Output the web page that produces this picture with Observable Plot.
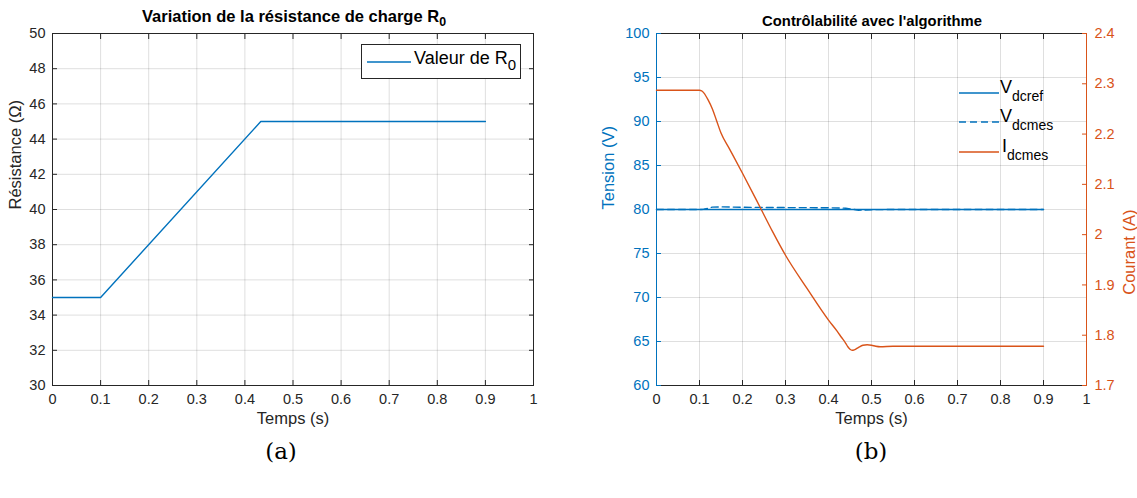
<!DOCTYPE html>
<html>
<head>
<meta charset="utf-8">
<script src="https://cdn.jsdelivr.net/npm/d3@7"></script>
<script src="https://cdn.jsdelivr.net/npm/@observablehq/plot@0.6"></script>
<style>
  body { margin: 0; background: white; font-family: "Liberation Sans", Arial, sans-serif; }
  #root { position: relative; width: 1137px; height: 498px; background: white; overflow: hidden; }
  .title { position: absolute; font-weight: bold; color: #000; transform: translate(-50%, -50%); white-space: nowrap; }
  .cap { position: absolute; font-family: "DejaVu Serif", "Liberation Serif", serif; font-size: 23px; transform: translate(-50%, -50%); color: #000; }
  sub { font-size: 75%; vertical-align: -0.35em; line-height: 0; }
</style>
</head>
<body>
<div id="root"></div>
<script>
// ---------- data ----------
const xTicks = [0, 0.1, 0.2, 0.3, 0.4, 0.5, 0.6, 0.7, 0.8, 0.9, 1];
const rTicks = [30, 32, 34, 36, 38, 40, 42, 44, 46, 48, 50];
const vTicks = [60, 65, 70, 75, 80, 85, 90, 95, 100];
const iTicks = [1.7, 1.8, 1.9, 2, 2.1, 2.2, 2.3, 2.4];

// (a) load resistance R0
const tR = [0, 0.1, 0.433, 0.9];
const R0 = [35, 35, 45, 45];

// (b) reference voltage
const tVref = [0, 0.9];
const Vdcref = [80, 80];
// (b) measured voltage
const tVmes = [0, 0.1, 0.11, 0.12, 0.13, 0.15, 0.2, 0.3, 0.4, 0.44, 0.46, 0.47, 0.48, 0.5, 0.55, 0.9];
const Vdcmes = [80, 80, 80.03, 80.15, 80.27, 80.3, 80.25, 80.22, 80.2, 80.15, 80.0, 79.92, 79.93, 79.98, 80, 80];
// (b) measured current
const tI = [0, 0.1, 0.105, 0.11, 0.12, 0.13, 0.14, 0.15, 0.17, 0.2, 0.24, 0.27, 0.3, 0.35, 0.4, 0.42, 0.43, 0.44, 0.445, 0.45, 0.455, 0.46, 0.47, 0.48, 0.49, 0.5, 0.51, 0.52, 0.55, 0.9];
const Idcmes = [2.287, 2.287, 2.286, 2.282, 2.268, 2.25, 2.226, 2.202, 2.17, 2.122, 2.056, 2.006, 1.959, 1.893, 1.830, 1.808, 1.796, 1.784, 1.777, 1.772, 1.770, 1.771, 1.776, 1.780, 1.781, 1.780, 1.778, 1.777, 1.778, 1.778];

// ---------- helpers ----------
const BLUE = "#0072BD", ORANGE = "#D95319", DARK = "#262626";
const fmt = d => String(d);
const rows = (xs, ys) => xs.map((x, i) => ({x, y: ys[i]}));
const root = document.getElementById("root");
function place(el, left, top) {
  el.style.position = "absolute"; el.style.left = left + "px"; el.style.top = top + "px";
  root.appendChild(el);
}
function html(s, cls, left, top, extra) {
  const d = document.createElement("div");
  d.className = cls; d.innerHTML = s;
  d.style.left = left + "px"; d.style.top = top + "px";
  if (extra) Object.assign(d.style, extra);
  root.appendChild(d);
  return d;
}
const grid = {stroke: DARK, strokeOpacity: 0.15, strokeWidth: 1};
const W = 560, H = 440;
const FS = "14.5px", LFS = 16.5;

// ---------- panel (a) ----------
const pa = Plot.plot({
  width: W, height: H,
  marginLeft: 52, marginRight: 27, marginTop: 33, marginBottom: 55,
  style: {fontFamily: "Liberation Sans, Arial, sans-serif", fontSize: FS, color: DARK},
  x: {domain: [0, 1]},
  y: {domain: [30, 50]},
  marks: [
    Plot.gridX(xTicks, grid),
    Plot.gridY(rTicks, grid),
    Plot.axisX(xTicks, {anchor: "bottom", tickSize: -5, tickPadding: 13, tickFormat: fmt, label: null, color: DARK}),
    Plot.axisX(xTicks, {anchor: "top", tickSize: -5, tickFormat: () => "", label: null, color: DARK}),
    Plot.axisY(rTicks, {anchor: "left", tickSize: -5, tickPadding: 12, tickFormat: fmt, label: null, color: DARK}),
    Plot.axisY(rTicks, {anchor: "right", tickSize: -5, tickFormat: () => "", label: null, color: DARK}),
    Plot.frame({stroke: DARK}),
    Plot.line(rows(tR, R0), {x: "x", y: "y", stroke: BLUE, strokeWidth: 1.4}),
    Plot.text(["Temps (s)"], {frameAnchor: "bottom", dy: 38, fontSize: LFS, fill: DARK}),
    Plot.text(["Résistance (Ω)"], {frameAnchor: "left", dx: -37, rotate: -90, fontSize: LFS, fill: DARK})
  ]
});
place(pa, 0, 0);

// ---------- panel (b), voltage (left axis) ----------
const L = 56, R = 51;
const pb = Plot.plot({
  width: 537, height: H,
  marginLeft: L, marginRight: R, marginTop: 33, marginBottom: 55,
  style: {fontFamily: "Liberation Sans, Arial, sans-serif", fontSize: FS, color: DARK},
  x: {domain: [0, 1]},
  y: {domain: [60, 100]},
  marks: [
    Plot.gridX(xTicks, grid),
    Plot.gridY(vTicks, grid),
    Plot.axisX(xTicks, {anchor: "bottom", tickSize: -5, tickPadding: 13, tickFormat: fmt, label: null, color: DARK}),
    Plot.axisX(xTicks, {anchor: "top", tickSize: -5, tickFormat: () => "", label: null, color: DARK}),
    Plot.frame({stroke: DARK}),
    Plot.axisY(vTicks, {anchor: "left", tickSize: -5, tickPadding: 12, tickFormat: fmt, label: null, color: BLUE}),
    Plot.ruleX([0], {stroke: BLUE}),
    Plot.line(rows(tVref, Vdcref), {x: "x", y: "y", stroke: BLUE, strokeWidth: 1.4}),
    Plot.line(rows(tVmes, Vdcmes), {x: "x", y: "y", stroke: BLUE, strokeWidth: 1.4, strokeDasharray: "7,4"}),
    Plot.text(["Temps (s)"], {frameAnchor: "bottom", dy: 38, fontSize: LFS, fill: DARK}),
    Plot.text(["Tension (V)"], {frameAnchor: "left", dx: -48, rotate: -90, fontSize: LFS, fill: BLUE})
  ]
});
place(pb, 600, 0);

// ---------- panel (b), current (right axis) ----------
const pc = Plot.plot({
  width: 537, height: H,
  marginLeft: L, marginRight: R, marginTop: 33, marginBottom: 55,
  style: {fontFamily: "Liberation Sans, Arial, sans-serif", fontSize: FS, background: "transparent"},
  x: {domain: [0, 1], axis: null},
  y: {domain: [1.7, 2.4], axis: null},
  marks: [
    Plot.axisY(iTicks, {anchor: "right", tickSize: -5, tickPadding: 13, tickFormat: fmt, label: null, color: ORANGE}),
    Plot.ruleX([1], {stroke: ORANGE}),
    Plot.line(rows(tI, Idcmes), {x: "x", y: "y", stroke: ORANGE, strokeWidth: 1.4, curve: "monotone-x"}),
    Plot.text(["Courant (A)"], {frameAnchor: "right", dx: 43, rotate: -90, fontSize: LFS, fill: ORANGE})
  ]
});
place(pc, 600, 0);

// ---------- titles ----------
html("Variation de la résistance de charge R<sub>0</sub>", "title", 294, 16, {fontSize: "16.5px"});
html("Contrôlabilité avec l'algorithme", "title", 872, 21, {fontSize: "14.8px"});

// ---------- legends ----------
const lgA = document.createElement("div");
Object.assign(lgA.style, {position: "absolute", left: "361px", top: "44px", width: "160px", height: "35px",
  border: "1px solid " + DARK, background: "white", boxSizing: "border-box"});
lgA.innerHTML = `<svg width="50" height="34" style="position:absolute;left:4px;top:0"><line x1="1" x2="45" y1="17" y2="17" stroke="${BLUE}" stroke-width="1.4"/></svg>
<div style="position:absolute;left:52px;top:3px;font-size:18px;color:#000;white-space:nowrap">Valeur de R<span style="font-size:15px;position:relative;top:6px">0</span></div>`;
root.appendChild(lgA);

const lgB = document.createElement("div");
Object.assign(lgB.style, {position: "absolute", left: "955px", top: "78px", width: "130px", height: "100px"});
const entries = [
  {main: "V", sub: "dcref", color: BLUE, dash: null, y: 15},
  {main: "V", sub: "dcmes", color: BLUE, dash: "7,4", y: 44},
  {main: "I", sub: "dcmes", color: ORANGE, dash: null, y: 74}
];
let s = `<svg width="50" height="100" style="position:absolute;left:0;top:0">`;
for (const e of entries) s += `<line x1="4" x2="44" y1="${e.y}" y2="${e.y}" stroke="${e.color}" stroke-width="1.4" ${e.dash ? `stroke-dasharray="${e.dash}"` : ""}/>`;
s += `</svg>`;
for (const e of entries) s += `<div style="position:absolute;left:${e.main === "I" ? 47 : 45}px;top:${e.y - 15}px;font-size:18px;color:#000;white-space:nowrap;line-height:1">${e.main}<span style="font-size:14px;position:relative;top:8px">${e.sub}</span></div>`;
lgB.innerHTML = s;
root.appendChild(lgB);

// ---------- captions ----------
html("(a)", "cap", 281, 451);
html("(b)", "cap", 871, 451);
</script>
</body>
</html>
